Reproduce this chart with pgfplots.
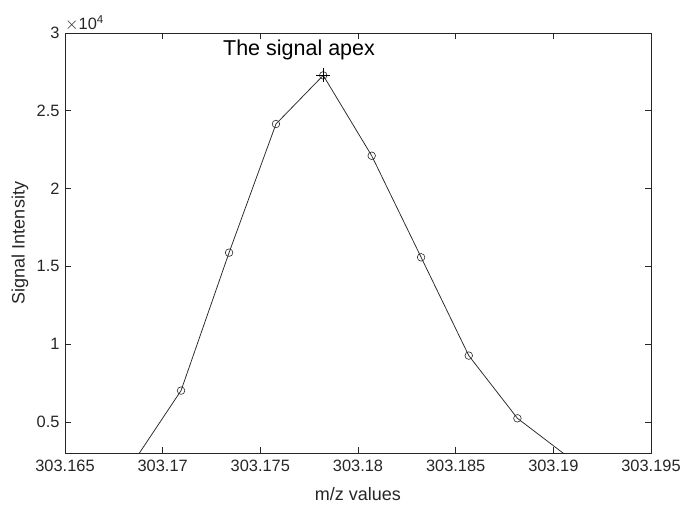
\documentclass[border=0pt]{standalone}
\usepackage{pgfplots}
\pgfplotsset{compat=1.18}
\usepackage{fontspec}
\setmainfont{Liberation Sans}
\definecolor{axgray}{rgb}{0.15,0.15,0.15}
\begin{document}
\begin{tikzpicture}[x=1pt,y=1pt]
\path[use as bounding box] (-65,-53) rectangle (618,453);
\begin{axis}[
  at={(0,0)}, anchor=south west,
  scale only axis, width=586pt, height=420pt,
  xmin=303.165, xmax=303.195, ymin=3000, ymax=30000,
  xtick={303.165,303.17,303.175,303.18,303.185,303.19,303.195},
  xticklabels={303.165,303.17,303.175,303.18,303.185,303.19,303.195},
  ytick={5000,10000,15000,20000,25000,30000},
  yticklabels={0.5,1,1.5,2,2.5,3},
  scaled ticks=false,
  tick align=inside, tick pos=both,
  major tick length=6pt,
  axis line style={axgray, line width=0.6pt},
  every tick/.style={axgray, line width=0.6pt},
  ticklabel style={font=\fontsize{16.4}{19}\selectfont, text=axgray},
  /pgf/number format/assume math mode=true,
  xticklabel style={yshift=-4pt},
  yticklabel style={xshift=-2pt},
  xlabel={m/z values},
  ylabel={Signal Intensity},
  label style={font=\fontsize{18}{21}\selectfont, text=axgray},
  xlabel style={at={(axis description cs:0.5,-0.0976)}, anchor=center},
  ylabel style={at={(axis description cs:-0.0768,0.5)}, anchor=center, rotate=0},
  clip mode=individual,
]
\addplot[color=black!85, line width=0.75pt, mark=o, mark size=3.8pt,
  mark options={line width=0.6pt, fill=none}] coordinates {
  (303.16850, 2420)
  (303.17094, 7010)
  (303.17340, 15880)
  (303.17580, 24150)
  (303.17822, 27275)
  (303.18070, 22110)
  (303.18323, 15580)
  (303.18567, 9260)
  (303.18816, 5230)
  (303.19065, 2850)
};
\addplot[only marks, color=black, mark=+, mark size=7pt, mark options={line width=0.6pt}]
  coordinates {(303.17822, 27275)};
\node[font=\fontsize{21.5}{25}\selectfont, text=black, anchor=center] at (axis cs:303.17698,28930) {The signal apex};
\node[font=\fontsize{16.4}{19}\selectfont, text=axgray, anchor=south west, inner sep=0pt] at (rel axis cs:0,1) [yshift=2pt] {$\times$10\textsuperscript{4}};
\end{axis}
\end{tikzpicture}
\end{document}
